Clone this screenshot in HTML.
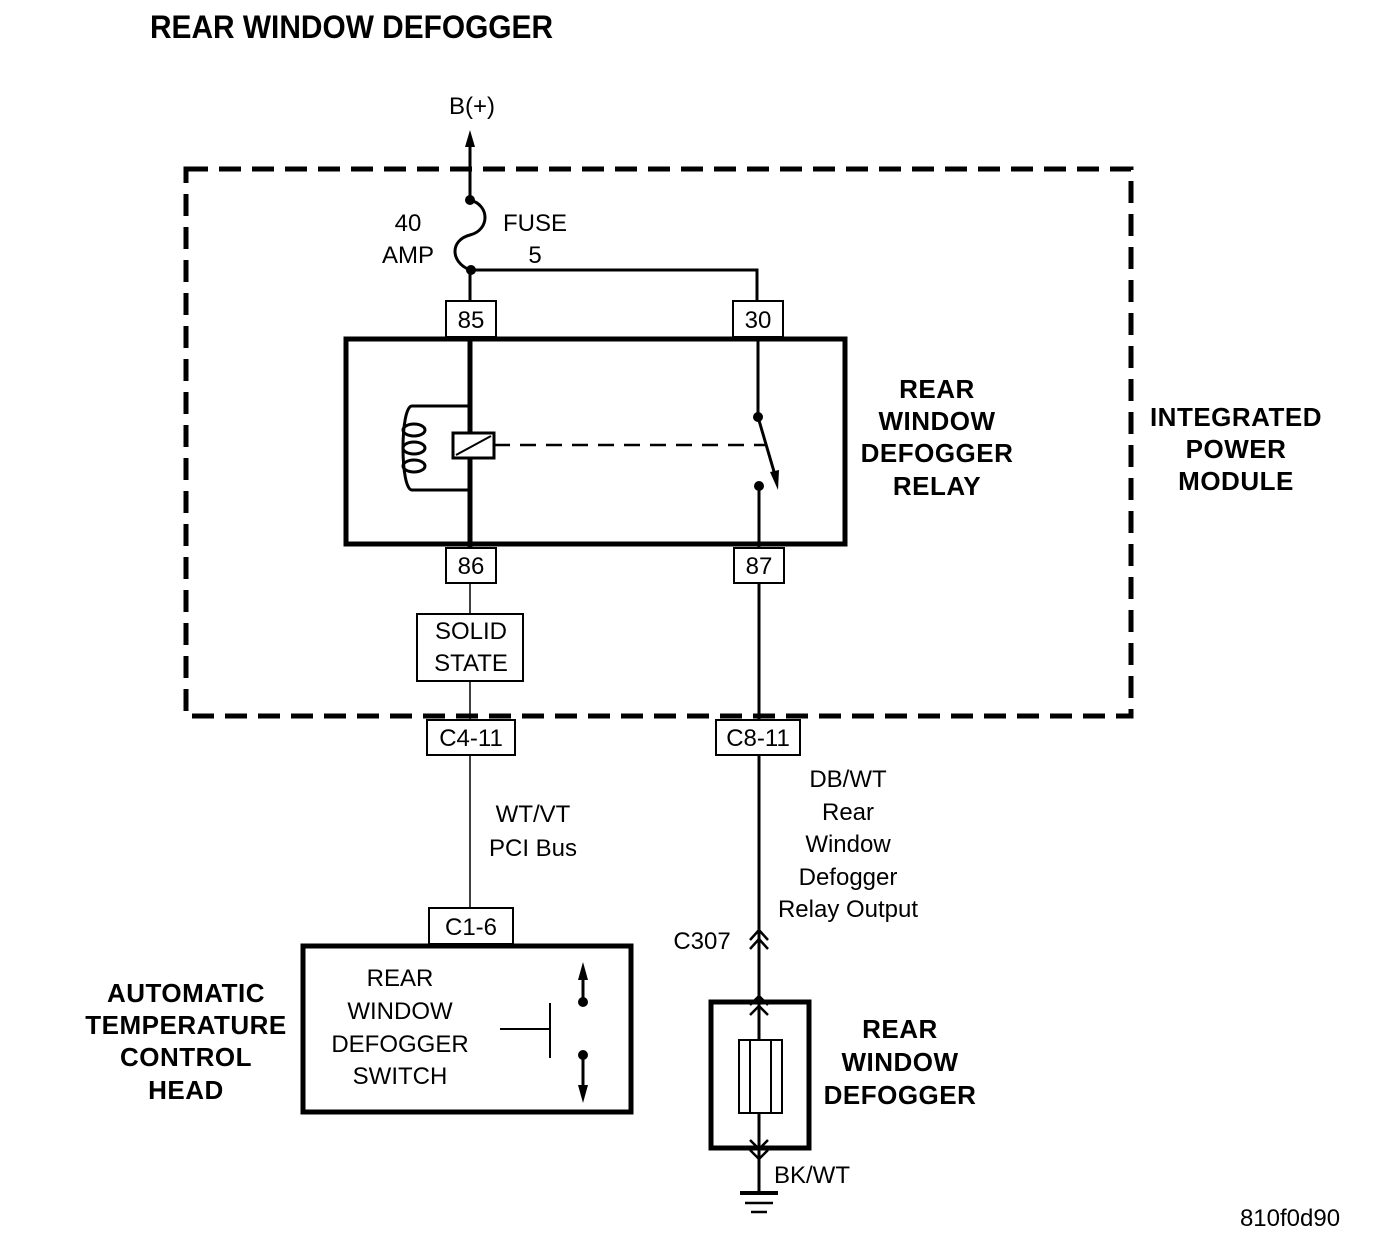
<!DOCTYPE html>
<html><head><style>
html,body{margin:0;padding:0;background:#fff;}
svg{display:block;}
text{font-family:"Liberation Sans",sans-serif;fill:#000;}
.b{font-weight:bold;font-size:26px;letter-spacing:0.5px;}
.n{font-size:24px;}
</style></head><body>
<svg width="1392" height="1252" viewBox="0 0 1392 1252" xmlns="http://www.w3.org/2000/svg">
<text x="150" y="38" font-weight="bold" font-size="32" textLength="403" lengthAdjust="spacingAndGlyphs">REAR WINDOW DEFOGGER</text>
<rect x="186" y="169" width="945" height="547" fill="none" stroke="#000" stroke-width="5" stroke-dasharray="22,11"/>
<text x="472" y="114" class="n" text-anchor="middle">B(+)</text>
<line x1="470" y1="145" x2="470" y2="200" stroke="#000" stroke-width="3"/>
<polygon points="470,130 465,147 475,147" fill="#000"/>
<circle cx="470" cy="200" r="5"/>
<path d="M470,200 C490,205 490,230 470,235 C450,240 450,262 470,270" fill="none" stroke="#000" stroke-width="3"/>
<circle cx="471" cy="270" r="5"/>
<text x="408" y="231" class="n" text-anchor="middle">40</text>
<text x="408" y="263" class="n" text-anchor="middle">AMP</text>
<text x="535" y="231" class="n" text-anchor="middle">FUSE</text>
<text x="535" y="263" class="n" text-anchor="middle">5</text>
<polyline points="470,270 470,302" fill="none" stroke="#000" stroke-width="3"/>
<polyline points="470,270 757,270 757,302" fill="none" stroke="#000" stroke-width="3"/>
<g fill="#fff" stroke="#000" stroke-width="2">
<rect x="446" y="301" width="50" height="36"/>
<rect x="733" y="301" width="50" height="36"/>
<rect x="446" y="548" width="50" height="35"/>
<rect x="734" y="548" width="50" height="35"/>
<rect x="417" y="614" width="106" height="67"/>
<rect x="427" y="720" width="88" height="35"/>
<rect x="716" y="720" width="84" height="35"/>
<rect x="429" y="908" width="84" height="36"/>
</g>
<text x="471" y="328" class="n" text-anchor="middle">85</text>
<text x="758" y="328" class="n" text-anchor="middle">30</text>
<text x="471" y="574" class="n" text-anchor="middle">86</text>
<text x="759" y="574" class="n" text-anchor="middle">87</text>
<text x="471" y="639" class="n" text-anchor="middle">SOLID</text>
<text x="471" y="671" class="n" text-anchor="middle">STATE</text>
<text x="471" y="746" class="n" text-anchor="middle">C4-11</text>
<text x="758" y="746" class="n" text-anchor="middle">C8-11</text>
<text x="471" y="935" class="n" text-anchor="middle">C1-6</text>
<rect x="346" y="339" width="499" height="205" fill="none" stroke="#000" stroke-width="5"/>
<line x1="470" y1="337" x2="470" y2="548" stroke="#000" stroke-width="5"/>
<path d="M470,406 H412 C400,406 400,490 412,490 H470" fill="none" stroke="#000" stroke-width="3"/>
<g fill="none" stroke="#000" stroke-width="3">
<ellipse cx="414" cy="430" rx="11" ry="6"/>
<ellipse cx="414" cy="448" rx="11" ry="6"/>
<ellipse cx="414" cy="466" rx="11" ry="6"/>
</g>
<rect x="453" y="433" width="41" height="25" fill="#fff" stroke="#000" stroke-width="3"/>
<line x1="456" y1="455" x2="491" y2="436" stroke="#000" stroke-width="2"/>
<line x1="494" y1="445" x2="767" y2="445" stroke="#000" stroke-width="2.5" stroke-dasharray="16,10"/>
<line x1="758" y1="337" x2="758" y2="417" stroke="#000" stroke-width="3"/>
<circle cx="758" cy="417" r="5"/>
<line x1="758" y1="417" x2="775" y2="475" stroke="#000" stroke-width="3"/>
<polygon points="778,490 770,472 779,470" fill="#000"/>
<circle cx="759" cy="486" r="5"/>
<line x1="759" y1="486" x2="759" y2="548" stroke="#000" stroke-width="3"/>
<text x="937" y="398" class="b" text-anchor="middle">REAR</text>
<text x="937" y="430" class="b" text-anchor="middle">WINDOW</text>
<text x="937" y="462" class="b" text-anchor="middle">DEFOGGER</text>
<text x="937" y="495" class="b" text-anchor="middle">RELAY</text>
<text x="1236" y="426" class="b" text-anchor="middle">INTEGRATED</text>
<text x="1236" y="458" class="b" text-anchor="middle">POWER</text>
<text x="1236" y="490" class="b" text-anchor="middle">MODULE</text>
<line x1="470" y1="583" x2="470" y2="614" stroke="#000" stroke-width="1.5"/>
<line x1="470" y1="681" x2="470" y2="720" stroke="#000" stroke-width="1.5"/>
<line x1="470" y1="755" x2="470" y2="908" stroke="#000" stroke-width="1.5"/>
<line x1="759" y1="583" x2="759" y2="720" stroke="#000" stroke-width="3"/>
<line x1="759" y1="755" x2="759" y2="1192" stroke="#000" stroke-width="3"/>
<text x="533" y="822" class="n" text-anchor="middle">WT/VT</text>
<text x="533" y="856" class="n" text-anchor="middle">PCI Bus</text>
<text x="848" y="787" class="n" text-anchor="middle">DB/WT</text>
<text x="848" y="820" class="n" text-anchor="middle">Rear</text>
<text x="848" y="852" class="n" text-anchor="middle">Window</text>
<text x="848" y="885" class="n" text-anchor="middle">Defogger</text>
<text x="848" y="917" class="n" text-anchor="middle">Relay Output</text>
<text x="702" y="949" class="n" text-anchor="middle">C307</text>
<polyline points="750,940 759,930 768,940" fill="none" stroke="#000" stroke-width="2.5"/>
<polyline points="750,949 759,939 768,949" fill="none" stroke="#000" stroke-width="2.5"/>
<rect x="303" y="946" width="328" height="166" fill="none" stroke="#000" stroke-width="5"/>
<text x="400" y="986" class="n" text-anchor="middle">REAR</text>
<text x="400" y="1019" class="n" text-anchor="middle">WINDOW</text>
<text x="400" y="1052" class="n" text-anchor="middle">DEFOGGER</text>
<text x="400" y="1084" class="n" text-anchor="middle">SWITCH</text>
<line x1="500" y1="1029" x2="550" y2="1029" stroke="#000" stroke-width="2"/>
<line x1="550" y1="1003" x2="550" y2="1058" stroke="#000" stroke-width="2"/>
<line x1="583" y1="970" x2="583" y2="1002" stroke="#000" stroke-width="3"/>
<polygon points="583,962 578,980 588,980" fill="#000"/>
<circle cx="583" cy="1002" r="5"/>
<line x1="583" y1="1055" x2="583" y2="1095" stroke="#000" stroke-width="3"/>
<polygon points="583,1103 578,1085 588,1085" fill="#000"/>
<circle cx="583" cy="1055" r="5"/>
<text x="186" y="1002" class="b" text-anchor="middle">AUTOMATIC</text>
<text x="186" y="1034" class="b" text-anchor="middle">TEMPERATURE</text>
<text x="186" y="1066" class="b" text-anchor="middle">CONTROL</text>
<text x="186" y="1099" class="b" text-anchor="middle">HEAD</text>
<rect x="711" y="1002" width="98" height="146" fill="none" stroke="#000" stroke-width="5"/>
<polyline points="750,1005 759,996 768,1005" fill="none" stroke="#000" stroke-width="2.5"/>
<polyline points="750,1015 759,1006 768,1015" fill="none" stroke="#000" stroke-width="2.5"/>
<polyline points="750,1140 759,1149 768,1140" fill="none" stroke="#000" stroke-width="2.5"/>
<polyline points="750,1150 759,1159 768,1150" fill="none" stroke="#000" stroke-width="2.5"/>
<rect x="739" y="1040" width="43" height="73" fill="#fff" stroke="#000" stroke-width="2"/>
<line x1="750" y1="1040" x2="750" y2="1113" stroke="#000" stroke-width="2"/>
<line x1="771" y1="1040" x2="771" y2="1113" stroke="#000" stroke-width="2"/>
<text x="900" y="1038" class="b" text-anchor="middle">REAR</text>
<text x="900" y="1071" class="b" text-anchor="middle">WINDOW</text>
<text x="900" y="1104" class="b" text-anchor="middle">DEFOGGER</text>
<text x="812" y="1183" class="n" text-anchor="middle">BK/WT</text>
<line x1="740" y1="1193" x2="778" y2="1193" stroke="#000" stroke-width="4"/>
<line x1="745" y1="1203" x2="773" y2="1203" stroke="#000" stroke-width="2.5"/>
<line x1="751" y1="1212" x2="767" y2="1212" stroke="#000" stroke-width="2.5"/>
<text x="1290" y="1226" class="n" text-anchor="middle">810f0d90</text>
</svg>
</body></html>
